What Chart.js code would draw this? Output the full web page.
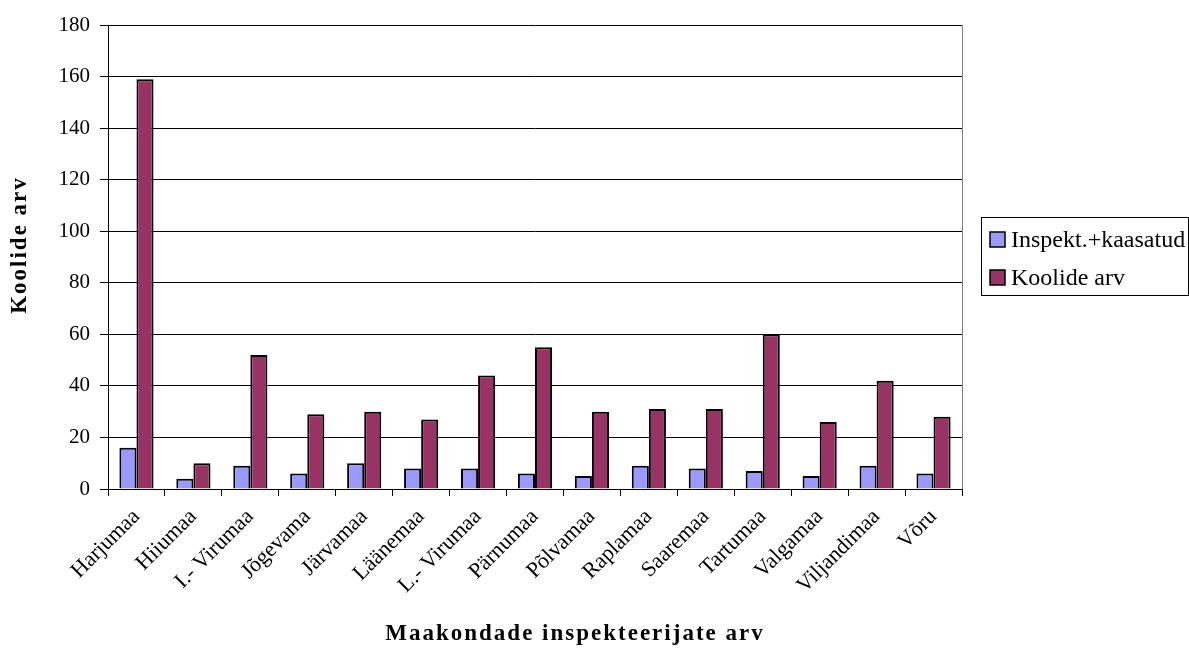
<!DOCTYPE html>
<html>
<head>
<meta charset="utf-8">
<script src="https://cdn.jsdelivr.net/npm/chart.js@4/dist/chart.umd.min.js"></script>
<style>
  html, body { margin: 0; padding: 0; background: #fff; }
  #wrap { width: 1189px; height: 648px; }
</style>
</head>
<body>
<div id="wrap"><canvas id="chart" width="1189" height="648"></canvas></div>
<script>
  const counties = ['Harjumaa', 'Hiiumaa', 'I.- Virumaa', 'Jõgevama', 'Järvamaa', 'Läänemaa', 'L.- Virumaa',
    'Pärnumaa', 'Põlvamaa', 'Raplamaa', 'Saaremaa', 'Tartumaa', 'Valgamaa', 'Viljandimaa', 'Võru'];
  const inspected = [16, 4, 9, 6, 10, 8, 8, 6, 5, 9, 8, 7, 5, 9, 6];
  const schools = [159, 10, 52, 29, 30, 27, 44, 55, 30, 31, 31, 60, 26, 42, 28];
  const seriesNames = ['Inspekt.+kaasatud', 'Koolide arv'];
  const colors = ['#9999ff', '#993366'];
  const yTicks = [0, 20, 40, 60, 80, 100, 120, 140, 160, 180];
  const xTitle = 'Maakondade inspekteerijate arv';
  const yTitle = 'Koolide arv';

  const FONT = "'Liberation Serif', 'Times New Roman', serif";

  // raam, telgede pealkirjad ja legend
  const framePlugin = {
    id: 'frame',
    afterDraw(chart) {
      const ctx = chart.ctx;
      const a = chart.chartArea;
      ctx.save();
      ctx.strokeStyle = '#808080';
      ctx.lineWidth = 1;
      ctx.beginPath();
      ctx.moveTo(Math.round(a.right) + 0.5, a.top);
      ctx.lineTo(Math.round(a.right) + 0.5, a.bottom);
      ctx.stroke();

      // telgede pealkirjad
      ctx.fillStyle = '#000';
      ctx.font = 'bold 23px ' + FONT;
      ctx.letterSpacing = '2px';
      ctx.textAlign = 'center';
      ctx.textBaseline = 'middle';
      ctx.fillText(xTitle, 575, 634);
      ctx.save();
      ctx.translate(20, 245);
      ctx.rotate(-Math.PI / 2);
      ctx.fillText(yTitle, 0, 0);
      ctx.restore();
      ctx.letterSpacing = '0px';

      // legend
      const lx = 981, ly = 217, lw = 207, lh = 78;
      ctx.strokeStyle = '#000';
      ctx.lineWidth = 1;
      ctx.strokeRect(lx + 0.5, ly + 0.5, lw, lh);
      ctx.font = '24px ' + FONT;
      ctx.textAlign = 'left';
      ctx.textBaseline = 'alphabetic';
      seriesNames.forEach((name, i) => {
        const cy = ly + 22 + i * 38;
        ctx.fillStyle = colors[i];
        ctx.fillRect(lx + 9, cy - 7, 15, 15);
        ctx.strokeStyle = '#000';
        ctx.lineWidth = 1.5;
        ctx.strokeRect(lx + 9, cy - 7, 15, 15);
        ctx.fillStyle = '#000';
        ctx.fillText(name, lx + 30, cy + 8);
      });
      ctx.restore();
    }
  };

  new Chart(document.getElementById('chart'), {
    type: 'bar',
    data: {
      labels: counties,
      datasets: [
        { label: seriesNames[0], data: inspected, backgroundColor: colors[0], borderColor: '#000', borderWidth: 2 },
        { label: seriesNames[1], data: schools, backgroundColor: colors[1], borderColor: '#000', borderWidth: 2 }
      ]
    },
    options: {
      responsive: false,
      animation: false,
      layout: { padding: { left: 0, top: 25, right: 227, bottom: 0 } },
      datasets: { bar: { categoryPercentage: 0.6, barPercentage: 1 } },
      plugins: { legend: { display: false }, tooltip: { enabled: false } },
      scales: {
        x: {
          afterFit(scale) { scale.height = 159; },
          grid: { offset: true, drawOnChartArea: false, color: '#000', tickLength: 7 },
          border: { color: '#000' },
          ticks: { color: '#000', font: { family: FONT, size: 22 }, minRotation: 45, maxRotation: 45, padding: 8 }
        },
        y: {
          min: 0, max: 180,
          afterFit(scale) { scale.width = 108; },
          afterBuildTicks(scale) { scale.ticks = yTicks.map(v => ({ value: v })); },
          grid: { color: '#000', tickLength: 8 },
          border: { color: '#000' },
          ticks: { color: '#000', font: { family: FONT, size: 21 }, padding: 10 }
        }
      }
    },
    plugins: [framePlugin]
  });
</script>
</body>
</html>
